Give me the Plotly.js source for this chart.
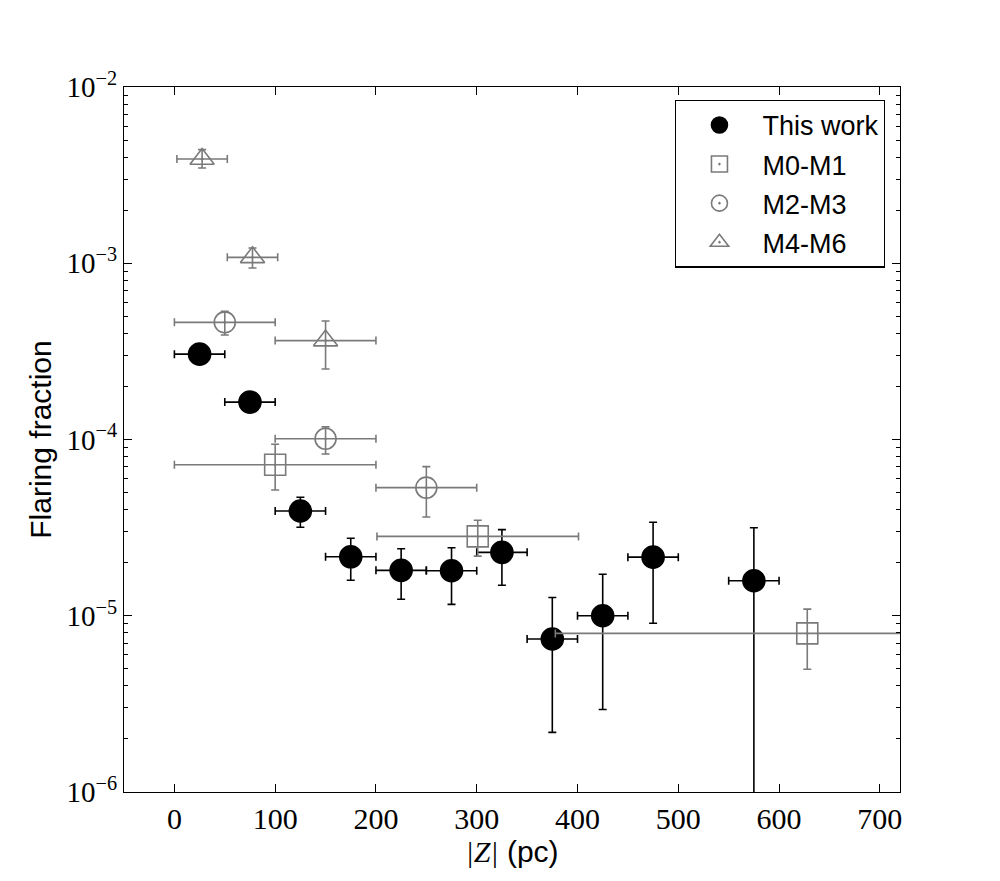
<!DOCTYPE html>
<html>
<head>
<meta charset="utf-8">
<script src="https://cdn.plot.ly/plotly-3.0.1.min.js"></script>
<style>
  body { margin: 0; background: #fff; }
  #chart { width: 1000px; height: 881px; }
</style>
</head>
<body>
<div id="chart"></div>
<script>
// This work (black filled circles)
const workZ = [25, 75, 125, 175, 225, 275, 325, 375, 425, 475, 575];
const workFrac = [3.05e-4, 1.63e-4, 3.93e-5, 2.16e-5, 1.81e-5, 1.80e-5, 2.29e-5, 7.38e-6, 1.00e-5, 2.15e-5, 1.58e-5];
const workUp = [3.3e-4, 1.75e-4, 4.7e-5, 2.75e-5, 2.40e-5, 2.43e-5, 3.08e-5, 1.27e-5, 1.72e-5, 3.39e-5, 3.16e-5];
const workLo = [2.8e-4, 1.5e-4, 3.18e-5, 1.59e-5, 1.24e-5, 1.16e-5, 1.49e-5, 2.18e-6, 2.94e-6, 9.06e-6, 1e-7];
const workZerr = [25, 25, 25, 25, 25, 25, 25, 25, 25, 25, 25];

// M0-M1 (open squares)
const m01Z = [100, 301, 628];
const m01Frac = [7.19e-5, 2.82e-5, 7.94e-6];
const m01Up = [9.4e-5, 3.48e-5, 1.09e-5];
const m01Lo = [5.17e-5, 2.18e-5, 4.97e-6];
const m01Zerr = [100, 100, 250];

// M2-M3 (open circles)
const m23Z = [50, 150, 250];
const m23Frac = [4.62e-4, 1.01e-4, 5.33e-5];
const m23Up = [5.33e-4, 1.18e-4, 7.02e-5];
const m23Lo = [3.92e-4, 8.28e-5, 3.63e-5];
const m23Zerr = [50, 50, 50];

// M4-M6 (open triangles)
const m46Z = [27.5, 77.5, 150];
const m46Frac = [3.9e-3, 1.08e-3, 3.64e-4];
const m46Up = [4.41e-3, 1.22e-3, 4.70e-4];
const m46Lo = [3.47e-3, 9.4e-4, 2.51e-4];
const m46Zerr = [25, 25, 50];

const yTickVals = [1e-6, 1e-5, 1e-4, 1e-3, 1e-2];
const yTickText = ["10<sup>−6</sup>", "10<sup>−5</sup>", "10<sup>−4</sup>", "10<sup>−3</sup>", "10<sup>−2</sup>"];
const xTickVals = [0, 100, 200, 300, 400, 500, 600, 700];

const gray = "#7a7a7a";

function makeTrace(name, z, frac, up, lo, zerr, color, symbol, size) {
  return {
    x: z,
    y: frac,
    name: name,
    legendgroup: name,
    type: "scatter",
    mode: "markers",
    marker: {
      symbol: symbol,
      size: size,
      color: color,
      line: { color: color, width: 1.6 },
    },
    error_x: {
      type: "data",
      array: zerr,
      color: color,
      thickness: 1.6,
      width: 4,
    },
    error_y: {
      type: "data",
      symmetric: false,
      array: up.map((u, i) => u - frac[i]),
      arrayminus: lo.map((l, i) => frac[i] - l),
      color: color,
      thickness: 1.6,
      width: 4,
    },
  };
}

const data = [
  makeTrace("This work", workZ, workFrac, workUp, workLo, workZerr, "#000000", "circle", 22),
  makeTrace("M0-M1", m01Z, m01Frac, m01Up, m01Lo, m01Zerr, gray, "square-open-dot", 21),
  makeTrace("M2-M3", m23Z, m23Frac, m23Up, m23Lo, m23Zerr, gray, "circle-open-dot", 21),
  makeTrace("M4-M6", m46Z, m46Frac, m46Up, m46Lo, m46Zerr, gray, "triangle-up-open-dot", 21),
];

const serif = "Liberation Serif, serif";
const sans = "Liberation Sans, Arial, sans-serif";

const layout = {
  width: 1000,
  height: 881,
  margin: { l: 124, r: 100, t: 87, b: 89, pad: 0 },
  paper_bgcolor: "white",
  plot_bgcolor: "white",
  showlegend: true,
  legend: {
    x: 0.981,
    y: 0.982,
    xanchor: "right",
    yanchor: "top",
    bgcolor: "white",
    bordercolor: "black",
    borderwidth: 1.2,
    font: { family: sans, size: 27, color: "black" },
    itemsizing: "trace",
    itemwidth: 76,
    tracegroupgap: 1,
  },
  xaxis: {
    range: [-50, 720],
    autorange: false,
    tickvals: xTickVals,
    ticks: "inside",
    ticklen: 8,
    tickwidth: 1,
    tickcolor: "black",
    mirror: "ticks",
    showline: true,
    linecolor: "black",
    linewidth: 1.2,
    showgrid: false,
    zeroline: false,
    tickfont: { family: serif, size: 30, color: "black" },
    title: {
      text: "<i><span style=\"font-family:Liberation Serif, serif\">|Z|</span></i> (pc)",
      font: { family: sans, size: 30, color: "black" },
      standoff: 4,
    },
  },
  yaxis: {
    type: "log",
    range: [-6, -2],
    autorange: false,
    tickvals: yTickVals,
    ticktext: yTickText,
    ticks: "inside",
    ticklen: 8,
    tickwidth: 1,
    tickcolor: "black",
    mirror: "ticks",
    showline: true,
    linecolor: "black",
    linewidth: 1.2,
    showgrid: false,
    zeroline: false,
    minor: {
      ticks: "inside",
      ticklen: 4,
      tickcolor: "black",
      dtick: "D1",
      showgrid: false,
    },
    tickfont: { family: serif, size: 29, color: "black" },
    title: {
      text: "Flaring fraction",
      font: { family: sans, size: 30, color: "black" },
      standoff: 6,
    },
  },
};

const config = {
  displaylogo: false,
  displayModeBar: false,
  responsive: false,
};

Plotly.newPlot("chart", data, layout, config);
</script>
</body>
</html>
